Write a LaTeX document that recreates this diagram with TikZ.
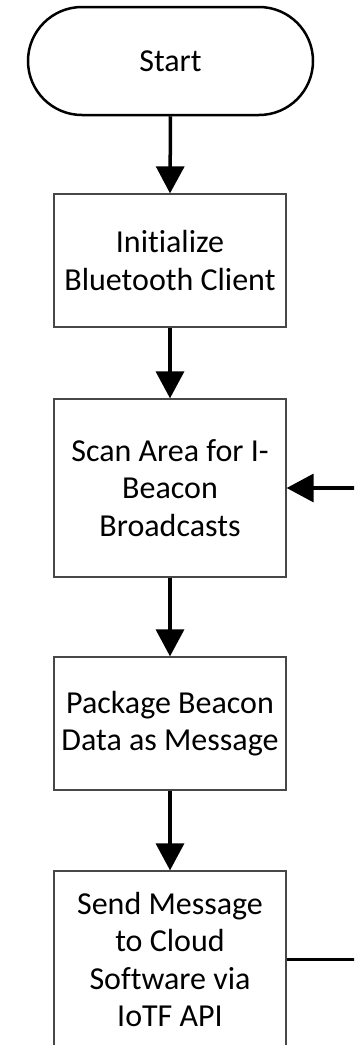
\documentclass[tikz,border=0pt]{standalone}
\usepackage{fontspec}
\setmainfont{Carlito}[Ligatures={NoCommon}]
\usetikzlibrary{arrows.meta}
\begin{document}
\begin{tikzpicture}[x=1pt,y=-1pt,
  every node/.style={font=\fontsize{32}{37.5}\selectfont, align=center, inner sep=0pt},
  procbox/.style={draw=black!72, line width=1.3pt, minimum width=232pt, minimum height=#1},
  term/.style={draw=black, line width=2.5pt, rounded corners=54pt, minimum width=285pt, minimum height=108pt},
  flow/.style={line width=3.5pt, -{Triangle[width=28pt,length=27pt]}},
  loopline/.style={line width=3.5pt}]
\useasboundingbox (0,0) rectangle (354,1045);
\clip (0,0) rectangle (354,1045);
\node[term] (start) at (170.5,61) {Start};
\node[procbox=133pt] (init) at (170,260.5) {Initialize\\Bluetooth Client};
\node[procbox=178pt] (scan) at (170,488) {Scan Area for I-\\Beacon\\Broadcasts};
\node[procbox=133pt] (pack) at (170,723.5) {Package Beacon\\Data as Message};
\node[procbox=177pt] (send) at (170,959.5) {Send Message\\to Cloud\\Software via\\IoTF API};
\coordinate (back) at (380,959.5);
\draw[flow] (start.south) -- (init.north);
\draw[flow] (init.south) -- (scan.north);
\draw[flow] (scan.south) -- (pack.north);
\draw[flow] (pack.south) -- (send.north);
\draw[flow] (send.east) -- (back) |- (scan.east);
\end{tikzpicture}
\end{document}
